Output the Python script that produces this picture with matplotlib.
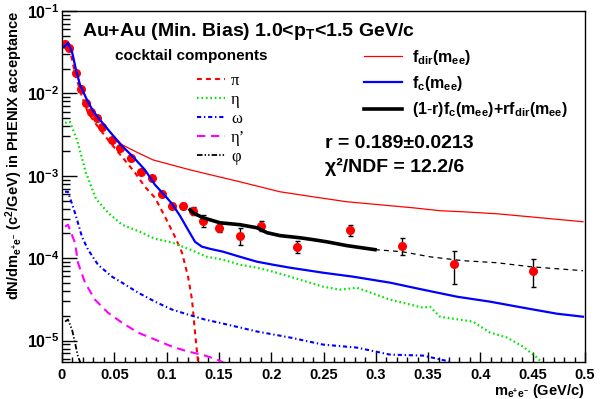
#----------------------------------------------------------------------------------------------------------------------#
# Imports
#----------------------------------------------------------------------------------------------------------------------#
import matplotlib
matplotlib.use('Agg')
import matplotlib.pyplot as plt
from matplotlib.lines import Line2D
from matplotlib.ticker import FixedLocator, LogLocator, NullFormatter

#----------------------------------------------------------------------------------------------------------------------#
# Data
#----------------------------------------------------------------------------------------------------------------------#
# measured points
data_m = [0.003, 0.007, 0.013, 0.018, 0.023, 0.028, 0.033, 0.038, 0.048, 0.055, 0.066, 0.0755, 0.086,
          0.0955, 0.105, 0.1155, 0.125, 0.135, 0.150, 0.170, 0.190, 0.225, 0.275, 0.325, 0.375, 0.450]
data_y = [0.0398, 0.0356, 0.0179, 0.01135, 0.00767, 0.00597, 0.00505, 0.00393, 0.00273, 0.00218, 0.00165,
          0.00112, 0.000946, 0.000605, 0.000433, 0.000433, 0.000376, 0.000285, 0.000234, 0.000188, 0.000248,
          0.000138, 0.000221, 0.000142, 8.6e-5, 7.05e-5]
data_err = [0.0012, 0.0011, 0.0005, 0.0003, 0.0002, 0.00015, 0.00013, 0.0001, 7e-5, 6e-5, 5e-5, 4e-5, 3.5e-5,
            2.5e-5, 2.5e-5, 3.5e-5, 3.8e-5, 4.8e-5, 2.8e-5, 4.2e-5, 3.2e-5, 2.3e-5, 3.4e-5, 3.3e-5, 3.7e-5, 2.6e-5]

# f_c(m_ee) : cocktail sum
fc_m = [0.0019, 0.0057, 0.0096, 0.0134, 0.0172, 0.0239, 0.0296, 0.0363, 0.0459, 0.0554, 0.0679, 0.0793,
        0.0889, 0.0985, 0.1052, 0.1128, 0.1205, 0.1272, 0.1338, 0.1415, 0.1539, 0.1702, 0.1864, 0.2017,
        0.2180, 0.2495, 0.2782, 0.3136, 0.3451, 0.3776, 0.4092, 0.4407, 0.4732, 0.4981]
fc_y = [0.0366, 0.0409, 0.0318, 0.0193, 0.0127, 0.00834, 0.00614, 0.00477, 0.00341, 0.00244, 0.00170,
        0.00118, 0.000778, 0.000573, 0.000458, 0.000327, 0.000221, 0.000158, 0.000138, 0.000130, 0.000120,
        0.000104, 9.07e-5, 8.34e-5, 7.67e-5, 6.67e-5, 5.97e-5, 5.05e-5, 4.15e-5, 3.41e-5, 2.97e-5, 2.51e-5,
        2.12e-5, 1.95e-5]

# f_dir(m_ee) : direct photon shape
fdir_m = [0.0019, 0.0057, 0.0096, 0.0134, 0.0172, 0.0239, 0.0296, 0.0363, 0.0459, 0.0574, 0.0727, 0.0870,
          0.1224, 0.1702, 0.2084, 0.2400, 0.2725, 0.3040, 0.3356, 0.3614, 0.3834, 0.4159, 0.4474, 0.4981]
fdir_y = [0.0366, 0.0409, 0.0318, 0.0193, 0.0127, 0.00834, 0.00614, 0.00477, 0.00341, 0.00238, 0.00190,
          0.00156, 0.00118, 0.000845, 0.000640, 0.000556, 0.000484, 0.000445, 0.000409, 0.000377, 0.000366,
          0.000346, 0.000318, 0.000277]

# (1-r)f_c + r f_dir : fit range and extrapolation
comb_m = [0.1224, 0.1252, 0.1348, 0.1511, 0.1702, 0.1864, 0.1960, 0.2084, 0.2275, 0.2400, 0.2533, 0.2725,
          0.2992]
comb_y = [0.000387, 0.000356, 0.000310, 0.000269, 0.000255, 0.000234, 0.000204, 0.000188, 0.000177,
          0.000168, 0.000158, 0.000142, 0.000127]
ext_m = [0.2992, 0.3250, 0.3518, 0.3834, 0.4159, 0.4474, 0.4981]
ext_y = [0.000127, 0.000120, 0.000104, 9.33e-5, 8.81e-5, 7.89e-5, 7.05e-5]

# cocktail components
pi_m = [0.001, 0.0038, 0.0076, 0.0124, 0.0191, 0.0249, 0.0344, 0.0440, 0.0574, 0.0698, 0.0793, 0.0889,
        0.0985, 0.1080, 0.1147, 0.1205, 0.1243, 0.1272, 0.1300, 0.132]
pi_y = [0.0409, 0.0421, 0.0337, 0.0177, 0.00908, 0.00581, 0.00393, 0.00273, 0.00170, 0.00109, 0.000736,
        0.000541, 0.000318, 0.000182, 0.000117, 5.97e-5, 3.14e-5, 1.25e-5, 5.56e-6, 1e-6]

eta_m = [0.0029, 0.0076, 0.0143, 0.0229, 0.0325, 0.0440, 0.0574, 0.0746, 0.0889, 0.1061, 0.1272, 0.1386,
         0.1539, 0.1702, 0.1864, 0.2017, 0.2180, 0.2495, 0.2658, 0.2820, 0.3136, 0.3451, 0.3518, 0.3614,
         0.3929, 0.4092, 0.4254, 0.4407, 0.4541, 0.4598, 0.47]
eta_y = [0.00439, 0.00452, 0.00273, 0.00109, 0.000526, 0.000356, 0.000255, 0.000209, 0.000172, 0.000154,
         0.000120, 0.000104, 9.59e-5, 8.34e-5, 7.67e-5, 6.86e-5, 5.97e-5, 4.52e-5, 4.15e-5, 4.38e-5, 3.14e-5,
         2.51e-5, 2.58e-5, 1.95e-5, 1.70e-5, 1.25e-5, 1.09e-5, 8.45e-6, 6.22e-6, 5.26e-6, 1e-6]

omega_m = [0.0029, 0.0057, 0.0124, 0.0191, 0.0249, 0.0344, 0.0478, 0.0574, 0.0727, 0.0889, 0.1052, 0.1205,
           0.1367, 0.1539, 0.1864, 0.2180, 0.2495, 0.2820, 0.3136, 0.3451, 0.3709, 0.38]
omega_y = [0.000640, 0.000640, 0.000356, 0.000182, 0.000127, 8.34e-5, 5.97e-5, 5.05e-5, 3.82e-5, 2.97e-5,
           2.38e-5, 2.07e-5, 1.80e-5, 1.61e-5, 1.29e-5, 1.09e-5, 8.95e-6, 8.22e-6, 6.76e-6, 6.58e-6, 5.56e-6,
           4e-6]

etap_m = [0.0029, 0.0057, 0.0124, 0.0153, 0.0220, 0.0315, 0.0440, 0.0574, 0.0727, 0.0889, 0.1052, 0.1205,
          0.1338, 0.1482, 0.1558, 0.165]
etap_y = [0.000241, 0.000255, 0.000154, 8.81e-5, 5.05e-5, 3.14e-5, 2.18e-5, 1.65e-5, 1.25e-5, 1.03e-5,
          8.45e-6, 7.36e-6, 6.76e-6, 5.89e-6, 5.3e-6, 4e-6]

phi_m = [0.0029, 0.0057, 0.0096, 0.0124, 0.0153, 0.0172, 0.019]
phi_y = [1.70e-5, 1.80e-5, 1.36e-5, 9.46e-6, 6.40e-6, 5.56e-6, 4e-6]

# ticks
x_ticks = [0.0, 0.05, 0.1, 0.15, 0.2, 0.25, 0.3, 0.35, 0.4, 0.45, 0.5]
x_tick_labels = ['0', '0.05', '0.1', '0.15', '0.2', '0.25', '0.3', '0.35', '0.4', '0.45', '0.5']
y_ticks = [1e-5, 1e-4, 1e-3, 1e-2, 1e-1]
y_tick_labels = [r'$\mathbf{10^{-5}}$', r'$\mathbf{10^{-4}}$', r'$\mathbf{10^{-3}}$', r'$\mathbf{10^{-2}}$',
                 r'$\mathbf{10^{-1}}$']

cocktail_names = ['π', 'η', 'ω', 'η’', 'φ']
fit_names = [r'$\mathbf{f_{dir}(m_{ee})}$', r'$\mathbf{f_{c}(m_{ee})}$',
             r'$\mathbf{(1\text{-}r)f_{c}(m_{ee}){+}rf_{dir}(m_{ee})}$']

#----------------------------------------------------------------------------------------------------------------------#
# Style
#----------------------------------------------------------------------------------------------------------------------#
plt.rcParams['font.family'] = ['Liberation Sans', 'DejaVu Sans']
plt.rcParams['mathtext.fontset'] = 'custom'
plt.rcParams['mathtext.rm'] = 'Liberation Sans'
plt.rcParams['mathtext.bf'] = 'Liberation Sans:bold'
plt.rcParams['mathtext.it'] = 'Liberation Sans:italic'
plt.rcParams['lines.scale_dashes'] = False

red, blue, green, magenta = '#ff0000', '#0000ff', '#00e600', '#ff00ff'
st_pi = (0, (3.5, 3))
st_eta = (0, (1.2, 2))
st_omega = (0, (3, 2, 1, 2))
st_etap = (0, (6, 4))
st_phi = (0, (4, 1.5, 1, 1.5, 1, 1.5))
st_ext = (0, (3.5, 3))

#----------------------------------------------------------------------------------------------------------------------#
# Figure
#----------------------------------------------------------------------------------------------------------------------#
fig = plt.figure(figsize=(6.03, 3.99), dpi=100)
ax = fig.add_axes([62 / 603, 37 / 399, 523 / 603, 351 / 399])

ax.errorbar(data_m, data_y, yerr=data_err, fmt='o', color=red, ms=5.5, mec=red,
            ecolor='black', elinewidth=1, capsize=1.8, capthick=1, zorder=2)

ax.plot(pi_m, pi_y, color=red, lw=1.5, ls=st_pi, zorder=3)
ax.plot(eta_m, eta_y, color=green, lw=1.6, ls=st_eta, zorder=3)
ax.plot(omega_m, omega_y, color=blue, lw=1.5, ls=st_omega, zorder=3)
ax.plot(etap_m, etap_y, color=magenta, lw=1.5, ls=st_etap, zorder=3)
ax.plot(phi_m, phi_y, color='black', lw=1.3, ls=st_phi, zorder=3)

ax.plot(fdir_m, fdir_y, color=red, lw=0.9, zorder=4)
ax.plot(fc_m, fc_y, color=blue, lw=1.6, zorder=5)
ax.plot(comb_m, comb_y, color='black', lw=2.6, zorder=6)
ax.plot(ext_m, ext_y, color='black', lw=0.9, ls=st_ext, zorder=6)

#----------------------------------------------------------------------------------------------------------------------#
# Axes
#----------------------------------------------------------------------------------------------------------------------#
ax.set_yscale('log')
ax.set_xlim(0, 0.5)
ax.set_ylim(5.5e-6, 0.1)

ax.set_xticks(x_ticks)
ax.set_xticklabels(x_tick_labels, fontsize=10.5, fontweight='bold')
ax.xaxis.set_minor_locator(FixedLocator([i * 0.01 for i in range(51)]))
ax.yaxis.set_major_locator(FixedLocator(y_ticks))
ax.set_yticklabels(y_tick_labels, fontsize=11.5)
ax.yaxis.set_minor_locator(LogLocator(base=10, subs=range(2, 10), numticks=20))
ax.yaxis.set_minor_formatter(NullFormatter())

ax.tick_params(axis='x', which='major', direction='in', length=7.5, width=1, pad=4)
ax.tick_params(axis='x', which='minor', direction='in', length=3.7, width=1)
ax.tick_params(axis='y', which='major', direction='in', length=11, width=1, pad=2)
ax.tick_params(axis='y', which='minor', direction='in', length=5.5, width=1)
for s in ax.spines.values():
    s.set_linewidth(1)

ax.set_xlabel(r'$\mathbf{m_{e^{+}e^{-}}}$ (GeV/c)', fontsize=10.5, fontweight='bold', loc='right')
ax.xaxis.set_label_coords(1.0, -0.058)
ax.set_ylabel(r'dN/dm$_{\mathbf{e^{+}e^{-}}}$ (c$^{\mathbf{2}}$/GeV) in PHENIX acceptance',
              fontsize=10.5, fontweight='bold', loc='top')
ax.yaxis.set_label_coords(-0.071, 1.0)

#----------------------------------------------------------------------------------------------------------------------#
# Texts and legends
#----------------------------------------------------------------------------------------------------------------------#
ax.text(0.038, 0.929, r'Au+Au (Min. Bias) 1.0<$\mathbf{p_{T}}$<1.5 GeV/c', transform=ax.transAxes,
        fontsize=14, fontweight='bold', va='baseline')
ax.text(0.101, 0.860, 'cocktail components', transform=ax.transAxes, fontsize=11, fontweight='bold',
        va='baseline')
ax.text(0.503, 0.610, 'r = 0.189±0.0213', transform=ax.transAxes, fontsize=14, fontweight='bold',
        va='baseline')
ax.text(0.503, 0.541, 'χ²/NDF = 12.2/6', transform=ax.transAxes, fontsize=14, fontweight='bold',
        va='baseline')

cocktail_handles = [Line2D([], [], color=red, lw=1.5, ls=st_pi),
                    Line2D([], [], color=green, lw=1.6, ls=st_eta),
                    Line2D([], [], color=blue, lw=1.5, ls=st_omega),
                    Line2D([], [], color=magenta, lw=1.5, ls=st_etap),
                    Line2D([], [], color='black', lw=1.3, ls=st_phi)]
leg1 = ax.legend(cocktail_handles, cocktail_names, loc='upper left', bbox_to_anchor=(0.258, 0.823),
                 frameon=False, borderpad=0, borderaxespad=0, handlelength=1.7, handletextpad=0.35,
                 labelspacing=0.18, prop={'family': 'Liberation Serif', 'size': 12})
ax.add_artist(leg1)

fit_handles = [Line2D([], [], color=red, lw=0.9),
               Line2D([], [], color=blue, lw=1.6),
               Line2D([], [], color='black', lw=2.6)]
ax.legend(fit_handles, fit_names, loc='upper left', bbox_to_anchor=(0.577, 0.895), frameon=False,
          borderpad=0, borderaxespad=0, handlelength=2.4, handletextpad=0.6, labelspacing=0.45,
          prop={'size': 11.5})

fig.savefig('out.png', dpi=100)
